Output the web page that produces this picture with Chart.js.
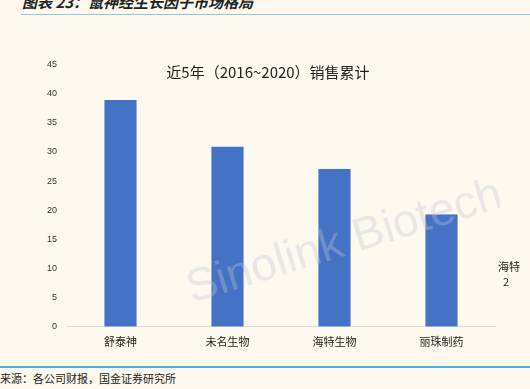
<!DOCTYPE html>
<html lang="zh">
<head>
<meta charset="UTF-8">
<title>鼠神经生长因子市场格局</title>
<style>
    html, body { margin: 0; padding: 0; }
    body {
        width: 530px; height: 389px; overflow: hidden; position: relative;
        background: #fdf9ee;
        font-family: "Noto Sans CJK SC", sans-serif;
    }
    .head {
        position: absolute; left: 22px; top: -9px;
        font-size: 15px; font-weight: bold; font-style: italic; color: #222;
    }
    .topline { position: absolute; left: 21px; top: 14px; width: 509px; height: 1px; background: #8ec9df; }
    .botline { position: absolute; left: 0; top: 366px; width: 530px; height: 2px; background: #4bb1de; }
    .source { position: absolute; left: 0; top: 370px; font-size: 11px; color: #222; }
    .side { position: absolute; left: 498px; top: 259px; font-size: 11px; color: #222; line-height: 15px; white-space: nowrap; }
    .chartTitle {
        position: absolute; left: 0; width: 536px; top: 61px; text-align: center;
        font-size: 15px; color: #222;
    }
    #wrap { position: absolute; left: 0; top: 49px; width: 500px; height: 307px; }
</style>
<script src="https://cdn.jsdelivr.net/npm/chart.js"></script>
</head>
<body>
<div class="head">图表 23：鼠神经生长因子市场格局</div>
<div class="topline"></div>
<div id="wrap"><canvas id="grafico"></canvas></div>
<div class="chartTitle">近5年（2016~2020）销售累计</div>
<div class="side">海特<br>&nbsp;&nbsp;2</div>
<div class="botline"></div>
<div class="source">来源：各公司财报，国金证券研究所</div>

<script>
    const empresas = ['舒泰神', '未名生物', '海特生物', '丽珠制药'];
    const ventas = [38.9, 30.9, 27.1, 19.3];
    const ticksY = [0, 5, 10, 15, 20, 25, 30, 35, 40, 45];

    // marca de agua
    const marcaAgua = {
        id: 'marcaAgua',
        afterDatasetsDraw(chart) {
            const c = chart.ctx;
            c.save();
            c.translate(192, 254);
            c.rotate(-0.3);
            c.font = '46px "Liberation Sans", Arial, sans-serif';
            c.fillStyle = 'rgba(190, 198, 215, 0.35)';
            c.fillText('Sinolink Biotech & Pharma', 0, 0);
            c.restore();
        }
    };

    const ctx = document.getElementById('grafico').getContext('2d');
    new Chart(ctx, {
        type: 'bar',
        data: {
            labels: empresas,
            datasets: [{
                data: ventas,
                backgroundColor: '#4472c4',
                borderColor: '#8faadc',
                borderWidth: { left: 1, right: 1, top: 0, bottom: 0 },
                barPercentage: 0.62,
                categoryPercentage: 0.5
            }]
        },
        options: {
            responsive: true,
            maintainAspectRatio: false,
            animation: false,
            layout: { padding: { top: 2, right: 5, left: 0, bottom: 0 } },
            plugins: { legend: { display: false }, tooltip: { enabled: false } },
            scales: {
                x: {
                    grid: { display: false, drawTicks: false },
                    border: { color: '#d9d9d9', width: 1 },
                    ticks: { color: '#222', padding: 8, font: { size: 11, family: '"Noto Sans CJK SC"' } }
                },
                y: {
                    min: 0, max: 45,
                    afterBuildTicks: axis => { axis.ticks = ticksY.map(v => ({ value: v })); },
                    afterFit: axis => { axis.width = 67; },
                    grid: { display: false, drawTicks: false },
                    border: { display: false },
                    ticks: { color: '#333', padding: 10, font: { size: 9, family: 'Arial' } }
                }
            }
        },
        plugins: [marcaAgua]
    });
</script>
</body>
</html>
